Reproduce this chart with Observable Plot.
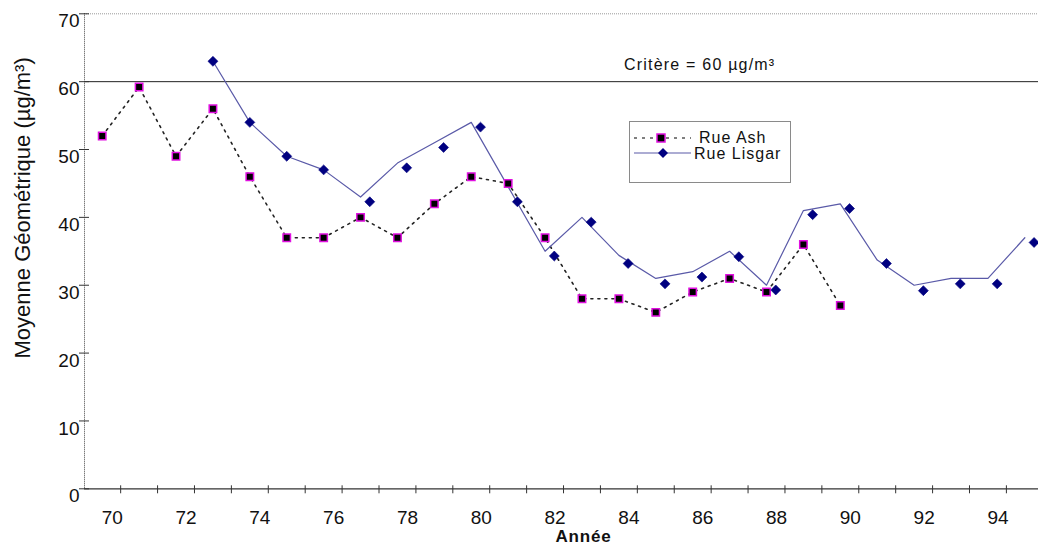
<!DOCTYPE html>
<html>
<head>
<meta charset="utf-8">
<script src="https://cdn.jsdelivr.net/npm/d3@7"></script>
<script src="https://cdn.jsdelivr.net/npm/@observablehq/plot@0.6"></script>
<style>
  html, body { margin: 0; padding: 0; background: #fff; }
  #wrap { position: relative; width: 1038px; height: 546px; overflow: hidden; font-family: "Liberation Sans", Arial, sans-serif; }
  #legend { position: absolute; left: 629px; top: 121px; width: 160px; height: 60px; border: 1.5px solid #8a8a8a; background: #fff; box-sizing: content-box; }
</style>
</head>
<body>
<div id="wrap"></div>
<script>
// ---- data ----
const ashYears   = [70, 71, 72, 73, 74, 75, 76, 77, 78, 79, 80, 81, 82, 83, 84, 85, 86, 87, 88, 89, 90];
const ashValues  = [52, 59.2, 49, 56, 46, 37, 37, 40, 37, 42, 46, 45, 37, 28, 28, 26, 29, 31, 29, 36, 27];

const lisgarYears  = [73, 74, 75, 76, 77, 78, 79, 80, 81, 82, 83, 84, 85, 86, 87, 88, 89, 90, 91, 92, 93, 94, 95];
const lisgarLine   = [63, 54, 49, 47, 43, 48, 51, 54, 44.5, 35, 40, 34.4, 31, 32, 35, 30, 41, 42, 33.7, 30, 31, 31, 37];

const lisgarMarkerYears = [73, 74, 75, 76, 77.25, 78.25, 79.25, 80.25, 81.25, 82.25, 83.25, 84.25, 85.25, 86.25, 87.25, 88.25, 89.25, 90.25, 91.25, 92.25, 93.25, 94.25, 95.25];
const lisgarMarkers     = [63, 54, 49, 47, 42.3, 47.3, 50.3, 53.3, 42.3, 34.3, 39.3, 33.2, 30.2, 31.2, 34.2, 29.3, 40.4, 41.3, 33.2, 29.2, 30.2, 30.2, 36.3];

const xTickLabels = [70, 72, 74, 76, 78, 80, 82, 84, 86, 88, 90, 92, 94];
const xTickMarks  = [70.5, 71.5, 72.5, 73.5, 74.5, 75.5, 76.5, 77.5, 78.5, 79.5, 80.5, 81.5, 82.5, 83.5, 84.5, 85.5, 86.5, 87.5, 88.5, 89.5, 90.5, 91.5, 92.5, 93.5, 94.5];
const yTicks      = [0, 10, 20, 30, 40, 50, 60, 70];
const criterion   = 60;

const yTitle = "Moyenne Géométrique (µg/m³)";
const xTitle = "Année";
const critLabel = "Critère = 60 µg/m³";
const seriesNames = ["Rue Ash", "Rue Lisgar"];

// ---- tables ----
const ash = ashYears.map((y, i) => ({year: y, value: ashValues[i]}));
const lisL = lisgarYears.map((y, i) => ({year: y, value: lisgarLine[i]}));
const lisM = lisgarMarkerYears.map((y, i) => ({year: y, value: lisgarMarkers[i]}));

const xDomain = [69.52, 95.37];

const chart = Plot.plot({
  width: 1038,
  height: 546,
  marginLeft: 84,
  marginRight: 0,
  marginTop: 13.3,
  marginBottom: 57.7,
  x: {domain: xDomain},
  y: {domain: [0, 70]},
  style: {fontFamily: "'Liberation Sans', Arial, sans-serif", background: "white", overflow: "visible", color: "#111"},
  marks: [
    Plot.ruleY([70], {stroke: "#999", strokeDasharray: "1,1"}),
    Plot.ruleY([criterion], {stroke: "#222", strokeWidth: 1}),
    Plot.ruleX([xDomain[0]], {y1: () => 0, y2: () => 70, stroke: "#444", strokeDasharray: "1,1"}),
    Plot.ruleY([0], {stroke: "#333", strokeWidth: 1.2}),
    Plot.ruleX(xTickMarks, {x: d => d, y1: () => 0, y2: () => 0, insetTop: -3, insetBottom: -5, stroke: "#333"}),
    Plot.ruleY(yTicks, {y: d => d, x1: () => xDomain[0], x2: () => xDomain[0], insetLeft: -5, insetRight: -5, stroke: "#333"}),
    Plot.axisX(xTickLabels, {tickSize: 0, tickPadding: 22, dx: 10, fontSize: 19, label: null}),
    Plot.axisY(yTicks, {tickSize: 0, tickPadding: 5, dy: 7.5, fontSize: 19, label: null}),
    Plot.text([yTitle], {frameAnchor: "left", y: () => 41.4, dx: -62, rotate: -90, fontSize: 22, textAnchor: "middle", lineAnchor: "middle", fill: "#111"}),
    Plot.text([xTitle], {x: () => 83.04, frameAnchor: "bottom", dy: 48, fontSize: 17, fontWeight: "bold", textAnchor: "middle", lineAnchor: "middle", fill: "#111"}),
    Plot.text([critLabel], {x: () => 86.19, y: () => 62.4, fontSize: 16, textAnchor: "middle", lineAnchor: "middle", fill: "#111"}),
    Plot.line(ash, {x: "year", y: "value", stroke: "#222", strokeWidth: 1.6, strokeDasharray: "2,5"}),
    Plot.line(lisL, {x: "year", y: "value", stroke: "#5a5aa8", strokeWidth: 1.2}),
    Plot.dot(ash, {x: "year", y: "value", symbol: "square", r: 4.2, fill: "#000", stroke: "#e010e0", strokeWidth: 1.5}),
    Plot.dot(lisM, {x: "year", y: "value", symbol: "diamond2", r: 4.5, fill: "#000080", stroke: "#000080", strokeWidth: 0.6})
  ]
});

chart.querySelectorAll("text").forEach(t => {
  if (t.textContent.startsWith("Crit")) t.style.letterSpacing = "1.2px";
  if (t.textContent === "Année") t.style.letterSpacing = "0.8px";
});

const wrap = document.getElementById("wrap");
wrap.appendChild(chart);

// legend (inside plot area, like the original)
const legend = document.createElement("div");
legend.id = "legend";
const ns = "http://www.w3.org/2000/svg";
const ls = document.createElementNS(ns, "svg");
ls.setAttribute("width", "160");
ls.setAttribute("height", "60");
ls.style.display = "block";
ls.style.overflow = "hidden";
ls.innerHTML = `
  <line x1="4" x2="61" y1="16" y2="16" stroke="#555" stroke-width="1.4" stroke-dasharray="3,5"/>
  <rect x="27" y="12" width="8" height="8" fill="#000" stroke="#e010e0" stroke-width="1.5"/>
  <text x="69" y="21" font-size="16" letter-spacing="1" fill="#111" font-family="Liberation Sans, Arial, sans-serif">${seriesNames[0]}</text>
  <line x1="4" x2="61" y1="31" y2="31" stroke="#5a5aa8" stroke-width="1.2"/>
  <path d="M33,26 L38,31 L33,36 L28,31 Z" fill="#000080"/>
  <text x="64" y="36.5" font-size="16" letter-spacing="1" fill="#111" font-family="Liberation Sans, Arial, sans-serif">${seriesNames[1]}</text>
`;
legend.appendChild(ls);
wrap.appendChild(legend);
</script>
</body>
</html>
